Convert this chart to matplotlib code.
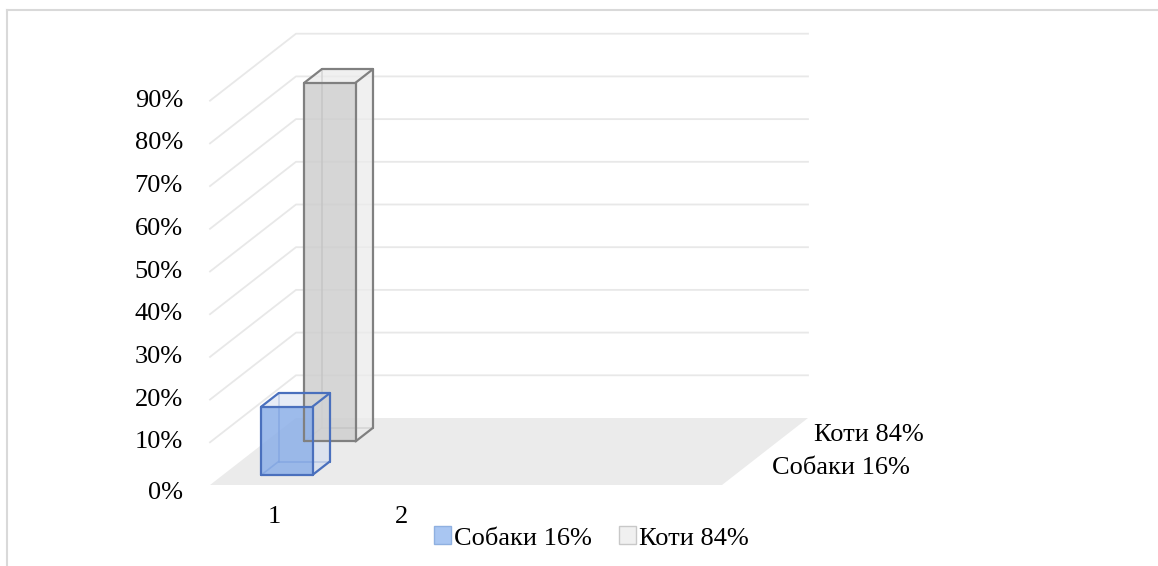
import matplotlib.pyplot as plt
from matplotlib.patches import Polygon, Patch

plt.rcParams['font.family'] = ['Liberation Serif', 'DejaVu Serif']

# Data
categories = ['1', '2', '', '']
series_names = ['Собаки 16%', 'Коти 84%']
dogs = [0.16, None, None, None]
cats = [0.84, None, None, None]
y_ticks = [0.0, 0.1, 0.2, 0.3, 0.4, 0.5, 0.6, 0.7, 0.8, 0.9]

# look
face_cols = [('#8cafe8', '#d6dff0', '#dfe6f3'), ('#cfcfcf', '#ececec', '#ececec')]
edge_cols = ['#4a70bd', '#808080']
legend_cols = [('#a9c6f2', '#8fb0e0'), ('#f0f0f0', '#c8c8c8')]
grid_col = '#e8e8e8'
floor_col = '#ebebeb'
FS = 19

# oblique projection: depth axis 0..2 shifts right and up
DX = 43 / 128      # category units per depth unit
DY = 33.5 / 427    # value units per depth unit
depth_max = 2.0
bar_w = 0.4
bar_d = 0.4


def proj(c, v, d):
    return (c + d * DX, v + d * DY)


fig = plt.figure(figsize=(11.58, 5.66), dpi=100)
ax = fig.add_axes([0, 0, 1, 1])
ax.set_xlim(-210 / 128, (1158 - 210) / 128)
ax.set_ylim(-81 / 427, 485 / 427)
ax.axis('off')

ncat = len(categories)

# chart border (top and left visible)
ax.plot([-203 / 128, 8], [475 / 427, 475 / 427], color='#d9d9d9', lw=1.5, zorder=0)
ax.plot([-203 / 128, -203 / 128], [475 / 427, -1], color='#d9d9d9', lw=1.5, zorder=0)

# gridlines on side and back walls
for t in y_ticks[1:]:
    p0 = proj(0, t, 0)
    p1 = proj(0, t, depth_max)
    p2 = proj(ncat, t, depth_max)
    ax.plot([p0[0], p1[0], p2[0]], [p0[1], p1[1], p2[1]], color=grid_col, lw=1.3, zorder=1)

# floor
floor = [proj(0, 0, 0), proj(ncat, 0, 0), proj(ncat, 0, depth_max), proj(0, 0, depth_max)]
ax.add_patch(Polygon(floor, closed=True, facecolor=floor_col, edgecolor='none', zorder=2))


def draw_bar(ci, val, row, fc, ec, z):
    x0 = ci + 0.5 - bar_w / 2
    x1 = ci + 0.5 + bar_w / 2
    d0 = row + 0.5 - bar_d / 2
    d1 = row + 0.5 + bar_d / 2
    corners = {}
    for xi, xx in (('l', x0), ('r', x1)):
        for yi, yy in (('b', 0), ('t', val)):
            for di, dd in (('f', d0), ('k', d1)):
                corners[xi + yi + di] = proj(xx, yy, dd)
    # hidden edges (seen through the transparent faces)
    hidden = [('lbk', 'rbk'), ('lbk', 'ltk'), ('lbk', 'lbf')]
    for a, b in hidden:
        ax.plot([corners[a][0], corners[b][0]], [corners[a][1], corners[b][1]],
                color=ec, lw=1.2, alpha=0.8, zorder=z)
    front = [corners[k] for k in ('lbf', 'rbf', 'rtf', 'ltf')]
    side = [corners[k] for k in ('rbf', 'rbk', 'rtk', 'rtf')]
    lid = [corners[k] for k in ('ltf', 'rtf', 'rtk', 'ltk')]
    ax.add_patch(Polygon(side, closed=True, facecolor=fc[1], alpha=0.75, edgecolor='none', zorder=z + 0.1))
    ax.add_patch(Polygon(lid, closed=True, facecolor=fc[2], alpha=0.75, edgecolor='none', zorder=z + 0.1))
    ax.add_patch(Polygon(front, closed=True, facecolor=fc[0], alpha=0.85, edgecolor='none', zorder=z + 0.2))
    visible = [('lbf', 'rbf'), ('rbf', 'rtf'), ('rtf', 'ltf'), ('ltf', 'lbf'),
               ('rbf', 'rbk'), ('rbk', 'rtk'), ('rtk', 'rtf'), ('rtk', 'ltk'), ('ltk', 'ltf')]
    for a, b in visible:
        ax.plot([corners[a][0], corners[b][0]], [corners[a][1], corners[b][1]],
                color=ec, lw=1.6, zorder=z + 0.3, solid_capstyle='round')


# back row first, then front row
all_series = [dogs, cats]
for row in (1, 0):
    for ci, val in enumerate(all_series[row]):
        if val is None:
            continue
        draw_bar(ci, val, row, face_cols[row], edge_cols[row], 3)

# y tick labels (the 0% label sits a bit lower, under the floor)
for t in y_ticks:
    off = -8 / 427 if t == 0 else 0
    ax.text(-27 / 128, t + off, f'{int(round(t * 100))}%', ha='right', va='center',
            fontsize=FS, color='black')

# category labels
for ci, lab in enumerate(categories):
    ax.text(ci + 0.5, -32 / 427, lab, ha='center', va='center', fontsize=FS, color='black')

# depth (series) labels
for row, name in enumerate(series_names):
    px, py = proj(ncat, 0, row + 0.5)
    ax.text(px + 28 / 128, py, name, ha='left', va='center', fontsize=FS, color='black')

# legend
handles = [Patch(facecolor=legend_cols[i][0], edgecolor=legend_cols[i][1], label=series_names[i])
           for i in range(len(series_names))]
fig.legend(handles=handles, loc='center', bbox_to_anchor=(591.5 / 1158, 1 - 538 / 566),
           ncol=2, frameon=False, fontsize=FS, handlelength=0.65, handleheight=0.65,
           handletextpad=0.12, columnspacing=1.0, borderpad=0)

fig.savefig('out.png', dpi=100)
